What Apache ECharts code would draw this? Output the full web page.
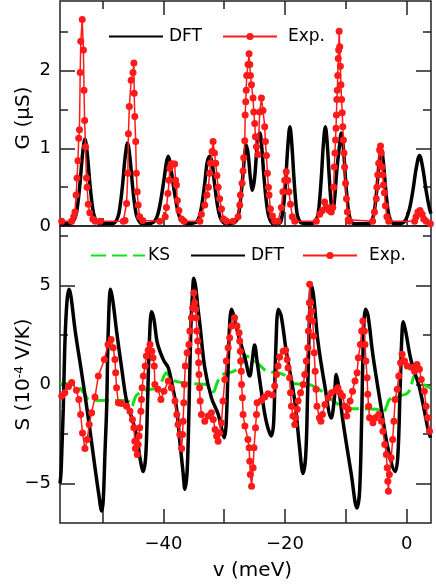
<!DOCTYPE html>
<html><head><meta charset="utf-8">
<script src="https://cdn.jsdelivr.net/npm/echarts@6/dist/echarts.min.js"></script>
<style>html,body{margin:0;padding:0;background:#fff}#c{width:436px;height:585px}</style>
</head><body><div id="c"></div>
<script>
// ---------- data ----------
const gDFT = [[-57,0.03],[-55.3,0.03],[-54.5,0.11],[-54.1,0.27],[-53.7,0.56],[-53.3,0.92],[-52.9,1.12],[-52.5,0.92],[-52.1,0.56],[-51.7,0.27],[-51.3,0.11],[-50.5,0.03],[-49.7,0.03],
[-48.3,0.03],[-47.5,0.11],[-47.1,0.27],[-46.7,0.54],[-46.3,0.88],[-45.9,1.07],[-45.5,0.88],[-45.1,0.54],[-44.7,0.26],[-44.3,0.11],[-43.5,0.03],[-42.7,0.03],
[-41.6,0.05],[-41.0,0.13],[-40.5,0.3],[-39.9,0.6],[-39.5,0.82],[-39.2,0.9],[-38.9,0.82],[-38.5,0.6],[-37.9,0.3],[-37.4,0.13],[-36.8,0.05],[-35.9,0.03],
[-34.6,0.05],[-34.1,0.12],[-33.7,0.26],[-33.2,0.55],[-32.8,0.82],[-32.4,0.9],[-32.0,0.82],[-31.6,0.55],[-31.1,0.26],[-30.7,0.12],[-30.2,0.05],[-29.4,0.03],
[-28.2,0.05],[-27.7,0.13],[-27.3,0.35],[-26.9,0.68],[-26.6,0.95],[-26.35,1.04],[-26.05,0.92],[-25.7,0.62],[-25.35,0.46],[-25.0,0.62],[-24.65,0.98],[-24.4,1.16],[-24.15,1.2],[-23.85,1.04],[-23.45,0.62],[-23.05,0.3],[-22.65,0.12],[-22.0,0.03],[-21.4,0.03],
[-20.8,0.04],[-20.5,0.12],[-20.18,0.3],[-19.85,0.64],[-19.52,1.05],[-19.2,1.28],[-18.88,1.05],[-18.55,0.64],[-18.22,0.3],[-17.9,0.12],[-17.3,0.04],[-16.3,0.03],
[-15.3,0.04],[-14.67,0.12],[-14.35,0.3],[-14.02,0.64],[-13.7,1.05],[-13.37,1.28],[-13.05,1.05],[-12.72,0.62],[-12.4,0.28],[-12.15,0.2],[-11.85,0.35],[-11.5,0.7],[-11.1,1.0],[-10.74,1.2],[-10.4,1.0],[-10.05,0.6],[-9.7,0.28],[-9.35,0.11],[-8.6,0.03],[-7.5,0.03],
[-6.3,0.03],[-5.58,0.1],[-5.23,0.24],[-4.88,0.5],[-4.53,0.82],[-4.18,1.0],[-3.83,0.82],[-3.48,0.5],[-3.13,0.24],[-2.78,0.1],[-2.1,0.03],[-1.2,0.03],
[-0.6,0.04],[-0.09,0.09],[0.46,0.22],[1.01,0.45],[1.56,0.74],[2.11,0.91],[2.66,0.74],[3.21,0.45],[3.76,0.22],[4.0,0.16]];

const gExp = [[-56.72,0.06],[-55.1,0.06],[-54.75,0.12],[-54.55,0.18],[-54.35,0.4],[-54.2,0.62],[-54.05,0.84],[-53.92,1.13],[-53.8,1.24],[-53.68,1.98],[-53.58,2.38],[-53.35,2.66],[-53.15,2.27],[-53.05,1.75],[-52.95,1.36],[-52.8,1.02],[-52.65,0.62],[-52.55,0.5],[-52.35,0.28],[-52.1,0.17],[-51.6,0.09],[-51.2,0.06],[-50.4,0.06],
[-46.6,0.06],[-46.3,0.07],[-46.05,0.29],[-45.85,0.68],[-45.75,1.19],[-45.6,1.54],[-45.3,1.88],[-45.0,1.98],[-44.85,2.1],[-44.8,1.71],[-44.7,1.41],[-44.55,1.09],[-44.45,0.68],[-44.3,0.44],[-44.15,0.27],[-43.9,0.12],[-43.4,0.07],[-40.6,0.06],
[-39.7,0.12],[-39.5,0.24],[-39.25,0.42],[-39.05,0.59],[-38.95,0.74],[-38.7,0.8],[-38.4,0.8],[-38.15,0.8],[-38.0,0.59],[-37.85,0.53],[-37.7,0.33],[-37.45,0.2],[-37.0,0.09],[-36.6,0.06],
[-34.0,0.06],[-33.75,0.15],[-33.2,0.27],[-32.85,0.4],[-32.6,0.5],[-32.4,0.68],[-32.25,0.81],[-32.0,0.96],[-31.83,1.09],[-31.6,0.94],[-31.4,0.81],[-31.2,0.65],[-31.0,0.5],[-30.75,0.35],[-30.45,0.22],[-30.1,0.09],[-29.6,0.06],
[-28.54,0.06],[-27.72,0.12],[-27.44,0.27],[-27.33,0.4],[-27.06,0.55],[-26.9,0.71],[-26.79,0.88],[-26.62,1.1],[-26.55,1.43],[-26.46,1.6],[-26.38,1.75],[-26.3,1.94],[-26.08,2.08],[-25.92,2.22],[-25.8,2.08],[-25.69,1.94],[-25.52,1.82],[-25.26,1.65],[-25.14,1.47],[-24.98,1.32],[-24.87,1.15],[-24.7,1.02],[-24.45,0.92],[-24.16,1.47],[-23.88,1.65],[-23.62,1.49],[-23.34,1.28],[-23.23,1.09],[-23.06,0.91],[-22.9,0.68],[-22.73,0.5],[-22.63,0.4],[-22.4,0.22],[-22.07,0.13],[-21.7,0.06],
[-21.15,0.06],[-20.6,0.24],[-20.35,0.44],[-20.05,0.59],[-19.8,0.7],[-19.55,0.59],[-19.35,0.44],[-19.1,0.28],[-18.8,0.12],[-18.4,0.06],
[-14.85,0.06],[-14.3,0.15],[-13.85,0.2],[-13.5,0.31],[-13.1,0.24],[-12.7,0.2],[-12.4,0.18],[-12.15,0.24],[-12.0,0.5],[-11.9,0.76],[-11.8,0.94],[-11.7,1.11],[-11.62,1.26],[-11.55,1.43],[-11.48,1.63],[-11.4,1.75],[-11.33,1.94],[-11.25,2.16],[-11.18,2.27],[-11.1,2.51],[-11.0,2.31],[-10.9,2.06],[-10.8,1.82],[-10.7,1.63],[-10.6,1.46],[-10.5,1.28],[-10.4,1.11],[-10.3,0.94],[-10.2,0.76],[-10.05,0.55],[-9.9,0.35],[-9.75,0.18],[-9.6,0.08],[-9.4,0.06],
[-5.6,0.06],[-5.3,0.18],[-5.0,0.35],[-4.9,0.5],[-4.75,0.66],[-4.6,0.81],[-4.45,0.98],[-4.3,1.03],[-4.18,0.94],[-4.05,0.76],[-3.95,0.66],[-3.82,0.53],[-3.65,0.43],[-3.5,0.26],[-3.25,0.12],[-2.95,0.06],
[1.3,0.06],[1.55,0.12],[1.85,0.18],[2.2,0.2],[2.55,0.15],[2.8,0.09],[3.2,0.06],[3.9,0.03]];

const sKS = [[-57,0.03],[-54.5,0.03],[-53.7,-0.2],[-52.9,-0.5],[-52.1,-0.8],[-49,-0.81],[-46.0,-0.81],[-45.5,-0.95],[-45.2,-1.12],[-44.8,-0.8],[-44.4,-0.54],[-43.0,-0.3],[-40.9,-0.17],[-40.2,0.2],[-39.5,0.59],[-38.9,0.35],[-38.4,0.2],[-36.8,0.08],[-35,0.03],[-32.9,0.0],[-32.3,-0.2],[-31.8,-0.37],[-31.2,0.05],[-30.5,0.45],[-29.1,0.59],[-28.2,0.7],[-27.4,0.93],[-26.9,1.3],[-26.6,1.43],[-25.5,1.31],[-24.2,0.98],[-22.8,0.64],[-21.2,0.59],[-19.8,0.42],[-18.4,0.03],[-16.2,0.0],[-15.0,-0.15],[-14.0,-0.34],[-12.7,-0.68],[-11.3,-1.0],[-10,-1.2],[-5.0,-1.26],[-3.9,-1.43],[-3.3,-1.1],[-2.8,-0.76],[-1.2,-0.59],[0.2,-0.42],[0.8,0.0],[1.3,0.42],[2.1,0.17],[3.0,-0.05],[3.9,-0.17]];

const sDFT = [[-57.0,-5.0],[-56.84,-4.5],[-56.65,-2.9],[-56.46,-1.2],[-56.18,2.2],[-55.85,4.2],[-55.52,4.8],[-55.2,4.45],[-54.5,2.7],[-53.4,0.5],[-52.35,-1.7],[-51.25,-4.2],[-50.6,-5.6],[-50.15,-6.4],[-49.9,-5.9],[-49.6,-3.4],[-49.33,-1.2],[-49.07,2.7],[-48.68,4.8],[-48.3,4.2],[-47.7,2.7],[-46.87,0.84],[-46.05,-0.84],[-45.2,-1.7],[-44.4,-2.6],[-43.86,-3.7],[-43.32,-4.4],[-42.9,-3.6],[-42.6,-0.84],[-42.3,2.19],[-41.95,3.67],[-41.56,3.3],[-41.07,2.2],[-40.58,1.68],[-39.9,1.18],[-39.2,0.84],[-38.5,-0.1],[-37.84,-1.2],[-37.3,-2.87],[-36.75,-4.5],[-36.47,-5.3],[-36.1,-4.4],[-35.8,-1.35],[-35.5,2.7],[-35.2,4.7],[-35.0,5.36],[-34.67,4.9],[-34.34,3.9],[-34.0,3.03],[-33.2,0.84],[-32.1,-0.68],[-31.0,-1.5],[-30.4,-2.26],[-30.0,-2.7],[-29.7,-2.1],[-29.4,0.42],[-29.08,3.2],[-28.8,3.8],[-28.4,3.45],[-27.7,2.53],[-26.6,1.35],[-25.8,0.42],[-25.4,1.18],[-25.0,1.99],[-24.6,1.18],[-23.9,-0.34],[-23.1,-1.85],[-22.24,-2.6],[-21.86,-1.85],[-21.53,1.68],[-21.1,3.8],[-20.63,3.45],[-19.8,1.68],[-18.4,-0.84],[-17.6,-3.2],[-17.05,-4.5],[-16.6,-3.6],[-16.28,-0.34],[-15.95,3.7],[-15.67,5.0],[-15.3,4.46],[-14.6,2.2],[-13.5,0.0],[-12.4,-1.7],[-11.93,-0.84],[-11.57,0.5],[-11.2,-0.08],[-10.48,-1.85],[-9.1,-4.55],[-8.18,-6.24],[-7.74,-5.4],[-7.41,-1.85],[-7.08,2.7],[-6.75,3.8],[-6.34,3.45],[-5.56,1.5],[-4.18,-1.2],[-3.09,-3.2],[-1.88,-4.4],[-1.45,-3.6],[-1.09,-0.34],[-0.79,2.44],[-0.56,3.17],[-0.18,2.7],[0.75,1.18],[2.11,-0.17],[3.47,-2.2],[3.92,-2.7]];

const sExp = [[-56.72,-0.59],[-56.2,-0.42],[-55.6,-0.1],[-55.08,0.1],[-54.3,-0.3],[-53.9,-0.76],[-53.6,-1.52],[-53.3,-2.45],[-52.9,-3.24],[-52.5,-2.78],[-52.2,-2.02],[-51.8,-1.43],[-51.25,-0.64],[-50.7,0.42],[-49.7,1.26],[-49.1,2.02],[-48.6,2.27],[-48.25,1.85],[-47.97,1.26],[-47.85,0.59],[-47.7,-0.17],[-47.4,-0.93],[-46.9,-0.96],[-46.05,-1.1],[-45.5,-1.35],[-45.1,-1.77],[-44.85,-2.19],[-44.7,-2.87],[-44.6,-3.24],[-44.3,-3.54],[-44.15,-3.03],[-44.0,-2.61],[-43.9,-2.19],[-43.7,-1.35],[-43.6,-0.76],[-43.5,-0.17],[-43.3,0.42],[-43.0,0.93],[-42.8,1.43],[-42.5,1.72],[-42.2,2.02],[-41.9,1.68],[-41.7,1.35],[-41.5,0.93],[-41.4,0.0],[-40.9,-0.25],[-40.4,-0.76],[-39.9,-0.34],[-39.2,0.17],[-38.7,-0.17],[-38.1,-0.84],[-37.8,-1.52],[-37.6,-2.02],[-37.3,-2.53],[-37.0,-3.24],[-36.85,-2.53],[-36.75,-1.86],[-36.65,-0.93],[-36.55,0.0],[-36.4,0.93],[-36.1,1.6],[-35.8,2.02],[-35.65,2.7],[-35.4,3.37],[-35.2,3.87],[-35.0,4.63],[-34.85,4.13],[-34.7,3.79],[-34.6,3.37],[-34.5,2.7],[-34.35,2.19],[-34.25,1.68],[-34.2,1.09],[-34.15,0.5],[-34.05,-0.17],[-33.95,-0.84],[-33.75,-1.52],[-33.2,-1.86],[-32.65,-1.6],[-32.1,-1.43],[-31.8,-1.77],[-31.5,-2.28],[-31.25,-2.61],[-31.0,-2.87],[-30.75,-2.45],[-30.45,-1.94],[-30.2,-0.84],[-29.9,0.25],[-29.65,1.18],[-29.35,1.85],[-29.1,2.36],[-28.8,2.95],[-28.3,3.37],[-27.9,2.95],[-27.55,2.61],[-27.45,2.19],[-27.35,1.68],[-27.3,1.18],[-27.2,0.67],[-27.15,0.0],[-27.0,-0.67],[-26.9,-1.52],[-26.6,-2.1],[-26.1,-2.78],[-25.9,-3.2],[-25.8,-3.88],[-25.7,-4.55],[-25.5,-5.14],[-25.25,-4.21],[-25.1,-3.2],[-24.85,-2.19],[-24.7,-1.52],[-24.6,-0.93],[-23.9,-0.81],[-23.35,-0.64],[-22.8,-0.47],[-22.05,-0.54],[-21.7,-0.08],[-21.4,0.5],[-21.15,0.93],[-20.9,1.38],[-20.3,1.68],[-19.9,1.72],[-19.65,1.26],[-19.5,0.84],[-19.25,0.34],[-19.1,-0.42],[-18.95,-1.1],[-18.7,-1.6],[-18.4,-2.02],[-18.25,-1.69],[-18.0,-1.26],[-17.85,-0.84],[-17.45,-0.42],[-17.0,0.0],[-16.75,0.5],[-16.5,1.18],[-16.25,1.85],[-16.15,2.7],[-16.05,3.37],[-16.0,4.13],[-15.95,5.06],[-15.8,4.13],[-15.6,3.71],[-15.45,3.2],[-15.3,2.44],[-15.2,1.6],[-15.05,0.67],[-14.9,-0.25],[-14.75,-1.1],[-14.35,-1.69],[-14.1,-1.86],[-13.85,-1.52],[-13.45,-1.01],[-12.9,-0.68],[-12.35,-0.42],[-11.65,-0.3],[-11.3,-0.17],[-10.95,-0.42],[-10.55,-0.59],[-10.15,-1.1],[-9.85,-1.6],[-9.6,-1.26],[-9.3,-0.84],[-8.9,-0.34],[-8.5,0.17],[-8.15,0.59],[-7.95,1.35],[-7.6,2.02],[-7.4,2.7],[-7.2,3.2],[-6.95,2.7],[-6.85,2.02],[-6.7,1.18],[-6.5,0.34],[-6.4,-0.5],[-6.25,-1.1],[-6.1,-1.69],[-5.55,-1.94],[-5.15,-1.69],[-4.6,-1.52],[-4.15,-1.86],[-3.9,-2.36],[-3.6,-3.03],[-3.35,-3.54],[-3.2,-4.21],[-3.1,-4.89],[-3.0,-5.4],[-2.85,-4.55],[-2.55,-3.71],[-2.3,-2.78],[-2.1,-1.86],[-1.9,-0.76],[-1.55,-0.25],[-1.3,0.42],[-1.0,1.09],[-0.75,1.52],[-0.35,1.18],[0.1,0.93],[0.75,0.87],[1.3,0.67],[1.7,1.01],[2.1,0.76],[2.4,0.25],[2.9,-0.34],[3.2,-1.1],[3.45,-1.69],[3.75,-2.36]];

const xMajorTicks = [-40,-20,0];
const xMinorTicks = [-50,-30,-10];
const gMajorTicks = [0,1,2];
const gMinorTicks = [0.5,1.5,2.5];
const sMajorTicks = [-5,0,5];
const sMinorTicks = [-2.5,2.5,7.5];
const xRange = [-57,4];
const gRange = [0,2.9];
const sRange = [-7,8];

// ---------- chart ----------
const FONT = 'DejaVu Sans';
const FRAME = '#222';
const fmt = v => (v < 0 ? '\u2212' + Math.abs(v) : String(v));

function xAx(grid, pos, ticks, len, labels) {
  return {type:'value', gridIndex:grid, position:pos, min:xRange[0], max:xRange[1], offset:0,
    axisLine:{show:false, onZero:false}, splitLine:{show:false},
    axisTick:{show:true, inside:true, length:len, customValues:ticks, lineStyle:{color:FRAME, width:1.5}},
    axisLabel:{show:labels, customValues:ticks, formatter:fmt, color:'#000', fontSize:18, fontFamily:FONT, margin:12}};
}
function yAx(grid, pos, range, ticks, len, labels) {
  return {type:'value', gridIndex:grid, position:pos, min:range[0], max:range[1], offset:0,
    axisLine:{show:false, onZero:false}, splitLine:{show:false},
    axisTick:{show:true, inside:true, length:len, customValues:ticks, lineStyle:{color:FRAME, width:1.5}},
    axisLabel:{show:labels, customValues:ticks, formatter:fmt, color:'#000', fontSize:18, fontFamily:FONT, margin:9}};
}

const xAxes = [
  xAx(0,'bottom',xMajorTicks,14,false), xAx(0,'bottom',xMinorTicks,8,false),
  xAx(0,'top',xMajorTicks,14,false), xAx(0,'top',xMinorTicks,8,false),
  xAx(1,'bottom',xMajorTicks,14,true), xAx(1,'bottom',xMinorTicks,14,false)
];
xAxes[4].name = 'v (meV)';
xAxes[4].nameLocation = 'middle';
xAxes[4].nameGap = 38;
xAxes[4].nameTextStyle = {fontSize:20, fontFamily:FONT, color:'#000', padding:[0,0,0,14]};

const yAxes = [
  yAx(0,'left',gRange,gMajorTicks,15,true), yAx(0,'left',gRange,gMinorTicks,8,false),
  yAx(0,'right',gRange,gMajorTicks,15,false), yAx(0,'right',gRange,gMinorTicks,8,false),
  yAx(1,'left',sRange,sMajorTicks,15,true), yAx(1,'left',sRange,sMinorTicks,8,false),
  yAx(1,'right',sRange,sMajorTicks,15,false), yAx(1,'right',sRange,sMinorTicks,8,false)
];
yAxes[0].name = 'G (μS)';
yAxes[0].nameLocation = 'middle';
yAxes[0].nameGap = 26;
yAxes[0].nameMoveOverlap = false;
yAxes[0].nameTextStyle = {fontSize:20, fontFamily:FONT, color:'#000', padding:[0,9,0,0]};
yAxes[4].name = '{a|S (10}{s|-4}{a| V/K)}';
yAxes[4].nameLocation = 'middle';
yAxes[4].nameGap = 26;
yAxes[4].nameMoveOverlap = false;
yAxes[4].nameTextStyle = {fontFamily:FONT, color:'#000', rich:{a:{fontSize:20, fontFamily:FONT, color:'#000'}, s:{fontSize:12, fontFamily:FONT, color:'#000', verticalAlign:'top', padding:[0,0,8,0]}}};

const RED = '#ff1a1a', GREEN = '#11e011';
const legendBase = (name, left, top, pad, hideSym) => {
  const l = {data:[name], left:left, top:top, padding:0, itemWidth:54, itemHeight:9, selectedMode:false,
    textStyle:{fontSize:17, fontFamily:FONT, color:'#000', padding:[0,0,0,pad]}};
  if (hideSym) l.itemStyle = {opacity:0};
  return l;
};

const option = {
  animation:false,
  backgroundColor:'#fff',
  grid:[
    {left:60, right:5, top:1, height:225, show:true, borderColor:FRAME, borderWidth:1.5, backgroundColor:'transparent', containLabel:false, outerBoundsMode:'none'},
    {left:60, right:5, top:226, height:297, show:true, borderColor:FRAME, borderWidth:1.5, backgroundColor:'transparent', containLabel:false, outerBoundsMode:'none'}
  ],
  legend:[
    legendBase('DFT',108,28,1,true), legendBase('Exp.',222,28,6,false),
    legendBase('KS',90,247,-2,true), legendBase('DFT',190,247,1,true), legendBase('Exp.',302,247,7,false)
  ],
  xAxis:xAxes,
  yAxis:yAxes,
  series:[
    {name:'DFT', type:'line', xAxisIndex:0, yAxisIndex:0, data:gDFT, smooth:0.35, symbol:'none', lineStyle:{color:'#000', width:3.5}, itemStyle:{color:'#000'}, z:2},
    {name:'Exp.', type:'line', xAxisIndex:0, yAxisIndex:0, data:gExp, symbol:'circle', symbolSize:7, lineStyle:{color:RED, width:1.5}, itemStyle:{color:RED}, z:3},
    {name:'KS', type:'line', xAxisIndex:4, yAxisIndex:4, data:sKS, smooth:0.4, symbol:'none', lineStyle:{color:GREEN, width:3, type:[15,6]}, itemStyle:{color:GREEN}, z:2},
    {name:'DFT', type:'line', xAxisIndex:4, yAxisIndex:4, data:sDFT, smooth:0.35, symbol:'none', lineStyle:{color:'#000', width:3.5}, itemStyle:{color:'#000'}, z:3},
    {name:'Exp.', type:'line', xAxisIndex:4, yAxisIndex:4, data:sExp, symbol:'circle', symbolSize:7, lineStyle:{color:RED, width:1.5}, itemStyle:{color:RED}, z:4}
  ]
};
const chart = echarts.init(document.getElementById('c'), null, {renderer:'canvas'});
chart.setOption(option);
</script></body></html>
